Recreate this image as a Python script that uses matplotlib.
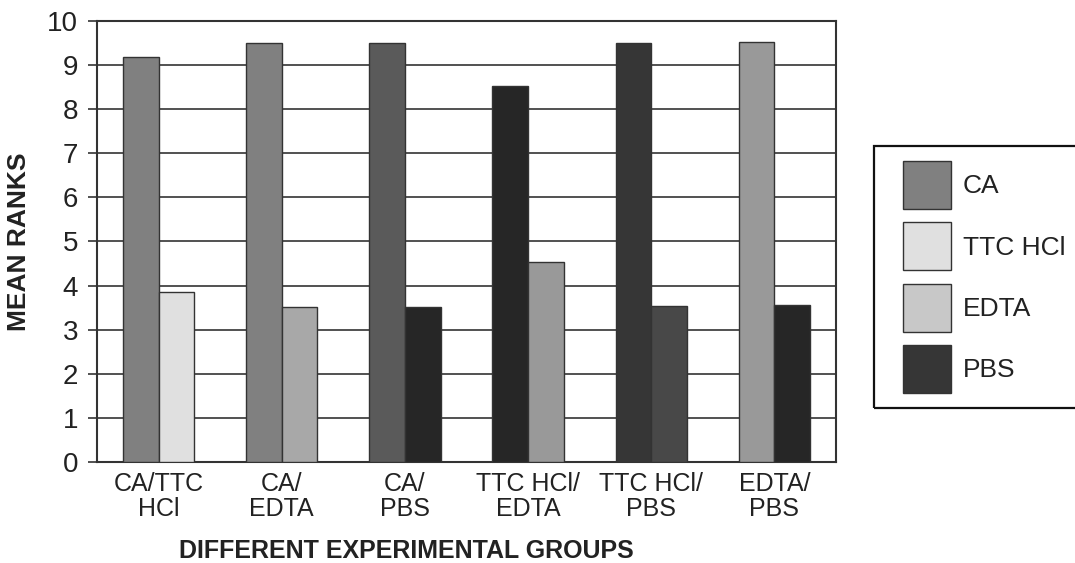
import numpy as np
import matplotlib
matplotlib.use("Agg")
import matplotlib.pyplot as plt
from matplotlib.patches import Patch, Rectangle

plt.rcParams['font.family'] = ['Liberation Sans', 'DejaVu Sans']

groups = ['CA/TTC\nHCl', 'CA/\nEDTA', 'CA/\nPBS', 'TTC HCl/\nEDTA', 'TTC HCl/\nPBS', 'EDTA/\nPBS']
first_vals = [9.18, 9.49, 9.51, 8.52, 9.49, 9.53]
second_vals = [3.85, 3.51, 3.51, 4.54, 3.54, 3.55]

legend_labels = ['CA', 'TTC HCl', 'EDTA', 'PBS']

# bar shades (as in the original, not tied to the legend)
first_colors = ['#808080', '#808080', '#5a5a5a', '#262626', '#363636', '#999999']
second_colors = ['#e0e0e0', '#a8a8a8', '#262626', '#999999', '#484848', '#262626']
legend_colors = ['#808080', '#e0e0e0', '#c8c8c8', '#363636']

fig = plt.figure(figsize=(10.75, 5.63), dpi=100)
ax = fig.add_axes([0.0902, 0.1794, 0.6875, 0.7833])

x = np.arange(len(groups))
width = 0.29
ax.bar(x - width / 2, first_vals, width, color=first_colors, edgecolor='#333333', linewidth=1, zorder=3)
ax.bar(x + width / 2, second_vals, width, color=second_colors, edgecolor='#333333', linewidth=1, zorder=3)

ax.set_xlim(-0.5, len(groups) - 0.5)
ax.set_ylim(0, 10)
ax.set_yticks(range(0, 11))
ax.yaxis.grid(True, color='#333333', linewidth=1.2, zorder=0)
ax.set_axisbelow(True)
for s in ax.spines.values():
    s.set_color('#333333')
    s.set_linewidth(1.5)

ax.tick_params(axis='y', labelsize=20, length=6.5, width=1.2, color='#333333', pad=7, labelcolor='#222222')
ax.set_xticks(x)
ax.set_xticklabels(groups, fontsize=18, linespacing=1.05, color='#222222')
ax.tick_params(axis='x', length=0, pad=7)

ax.set_ylabel('MEAN RANKS', fontsize=19, fontweight='bold', labelpad=12, color='#222222')
fig.text(406 / 1075, 1 - 551 / 563, 'DIFFERENT EXPERIMENTAL GROUPS', ha='center', va='center',
         fontsize=18, fontweight='bold', color='#222222')

# legend box runs off the right edge in the original
fig.patches.append(Rectangle((874 / 1075, 1 - 408 / 563), 0.2, (408 - 146) / 563,
                             transform=fig.transFigure, fill=False, edgecolor='#111111', linewidth=1.6))

handles = [Patch(facecolor=c, edgecolor='#333333', linewidth=1) for c in legend_colors]
leg = fig.legend(handles, legend_labels, loc='upper left', bbox_to_anchor=(903 / 1075, 1 - 161 / 563),
                 fontsize=19, frameon=False, handlelength=1.82, handleheight=2.42,
                 labelspacing=0.51, handletextpad=0.45, borderpad=0, borderaxespad=0)
for t in leg.get_texts():
    t.set_color('#222222')

fig.savefig('out.png', dpi=100)
